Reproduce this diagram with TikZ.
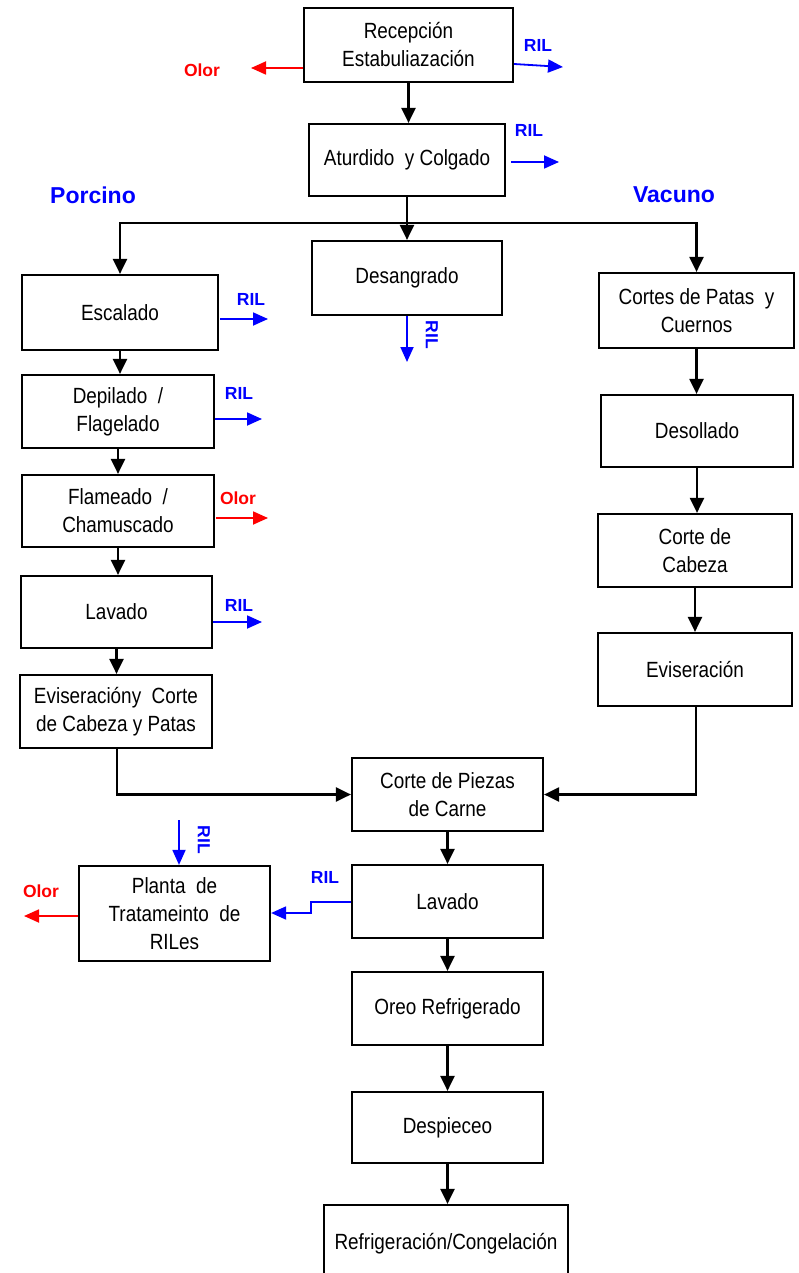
\documentclass[tikz,border=0pt]{standalone}
\usepackage{fontspec}
\setmainfont{Liberation Sans}[FakeStretch=0.86]
\newfontfamily\labfont{Liberation Sans}
\usetikzlibrary{arrows.meta}
\begin{document}
\begin{tikzpicture}[x=1pt,y=-1pt,
 box/.style={draw, line width=2.2pt, align=center, inner sep=0pt, font=\fontsize{22}{28}\selectfont},
 flow/.style={line width=2.2pt, -{Triangle[length=15pt,width=14pt]}},
 rilarr/.style={blue, line width=1.8pt, -{Triangle[length=15pt,width=13pt]}},
 olorarr/.style={red, line width=1.8pt, -{Triangle[length=15pt,width=13pt]}},
 ril/.style={text=blue, font=\labfont\bfseries\fontsize{17.5}{20}\selectfont, inner sep=0pt},
 olor/.style={text=red, font=\labfont\bfseries\fontsize{17.5}{20}\selectfont, inner sep=0pt},
 grp/.style={text=blue, font=\labfont\bfseries\fontsize{23}{26}\selectfont, inner sep=0pt}
]
\useasboundingbox (0,0) rectangle (798,1273);
\clip (0,0) rectangle (798,1273);

% main boxes
\node[box, minimum width=209pt, minimum height=74pt] (rec) at (408.5,45) {Recepción\\Estabuliazación};
\node[box, minimum width=196pt, minimum height=72pt] (atu) at (407,160) {Aturdido\ \ y Colgado};
\node[box, minimum width=190pt, minimum height=74pt] (des) at (407,278) {Desangrado};
% porcino
\node[box, minimum width=196pt, minimum height=75pt] (esc) at (120,312.5) {Escalado};
\node[box, minimum width=192pt, minimum height=73pt] (dep) at (118,411.5) {Depilado\ \ /\\Flagelado};
\node[box, minimum width=192pt, minimum height=72pt] (fla) at (118,511) {Flameado\ \ /\\Chamuscado};
\node[box, minimum width=191pt, minimum height=72pt] (lavp) at (116.5,612) {Lavado};
\node[box, minimum width=192pt, minimum height=73pt] (evp) at (116,711.5) {Eviseracióny\ \ Corte\\de Cabeza\ y Patas};
% vacuno
\node[box, minimum width=195pt, minimum height=75pt] (cor) at (696.5,310.5) {Cortes de Patas\ \ y\\Cuernos};
\node[box, minimum width=192pt, minimum height=72pt] (dsl) at (697,431) {Desollado};
\node[box, minimum width=194pt, minimum height=73pt] (cca) at (695,550.5) {Corte\ de\\Cabeza};
\node[box, minimum width=194pt, minimum height=73pt] (evv) at (695,669.5) {Eviseración};
% common
\node[box, minimum width=191pt, minimum height=73pt] (cpz) at (447.5,794.5) {Corte\ de Piezas\\de Carne};
\node[box, minimum width=191pt, minimum height=73pt] (lavc) at (447.5,901.5) {Lavado};
\node[box, minimum width=191pt, minimum height=95pt] (pla) at (174.5,913.5) {Planta\ \ de\\Tratameinto\ \ de\\RILes};
\node[box, minimum width=191pt, minimum height=73pt] (oreo) at (447.5,1008.5) {Oreo Refrigerado};
\node[box, minimum width=191pt, minimum height=71pt] (desp) at (447.5,1127.5) {Despieceo};
\node[box, minimum width=244pt, minimum height=78pt] (refr) at (446,1244) {Refrigeración/Congelación};

% group labels
\node[grp] (porc) at (93,195) {Porcino};
\node[grp] (vac) at (674,195) {Vacuno};

% black flow
\draw[flow] (rec.south) -- (rec.south |- atu.north);
\coordinate (jn) at (407,223);
\draw[line width=2.2pt] (atu.south) -- (jn);
\draw[flow] (jn) -- (des.north);
\draw[flow] (jn) -| (esc.north);
\draw[flow] (jn) -| (cor.north);
\draw[flow] (esc.south) -- (esc.south |- dep.north);
\draw[flow] (dep.south) -- (fla.north);
\draw[flow] (fla.south) -- (fla.south |- lavp.north);
\draw[flow] (lavp.south) -- (lavp.south |- evp.north);
\draw[flow] (evp.south -| 117,0) |- (cpz.west);
\draw[flow] (cor.south) -- (cor.south |- dsl.north);
\draw[flow] (dsl.south) -- (dsl.south |- cca.north);
\draw[flow] (cca.south) -- (evv.north);
\draw[flow] (evv.south -| 696,0) |- (cpz.east);
\draw[flow] (cpz.south) -- (lavc.north);
\draw[flow] (lavc.south) -- (oreo.north);
\draw[flow] (oreo.south) -- (desp.north);
\draw[flow] (desp.south) -- (desp.south |- refr.north);

% RIL / Olor outputs
\coordinate (r1) at (563,67);
\draw[rilarr] (rec.east |- 0,64) -- (r1);
\node[ril] (lr1) at (538,45) {RIL};
\coordinate (o1) at (251,68);
\draw[olorarr] (rec.west |- 0,68) -- (o1);
\node[olor] (lo1) at (202,70) {Olor};

\coordinate (r2) at (559,162);
\draw[rilarr] (511,162) -- (r2);
\node[ril] (lr2) at (529,130) {RIL};

\coordinate (r3) at (268,319);
\draw[rilarr] (220,319) -- (r3);
\node[ril] (lr3) at (251,299) {RIL};

\coordinate (r4) at (407,362);
\draw[rilarr] (des.south) -- (r4);
\node[ril, rotate=-90] (lr4) at (432,335) {RIL};

\coordinate (r5) at (262,419);
\draw[rilarr] (dep.east |- 0,419) -- (r5);
\node[ril] (lr5) at (239,393) {RIL};

\coordinate (o2) at (268,518);
\draw[olorarr] (216,518) -- (o2);
\node[olor] (lo2) at (238,498) {Olor};

\coordinate (r6) at (262,622);
\draw[rilarr] (lavp.east |- 0,622) -- (r6);
\node[ril] (lr6) at (239,605) {RIL};

\coordinate (r7) at (179,820);
\draw[rilarr] (r7) -- (r7 |- pla.north);
\node[ril, rotate=-90] (lr7) at (204,840) {RIL};

\coordinate (o3) at (24,916);
\draw[olorarr] (pla.west |- 0,916) -- (o3);
\node[olor] (lo3) at (41,891) {Olor};

\draw[rilarr] (lavc.west |- 0,902) -- (311,902) -- (311,913) -- (pla.east |- 0,913);
\node[ril] (lr8) at (325,877) {RIL};
\end{tikzpicture}
\end{document}
